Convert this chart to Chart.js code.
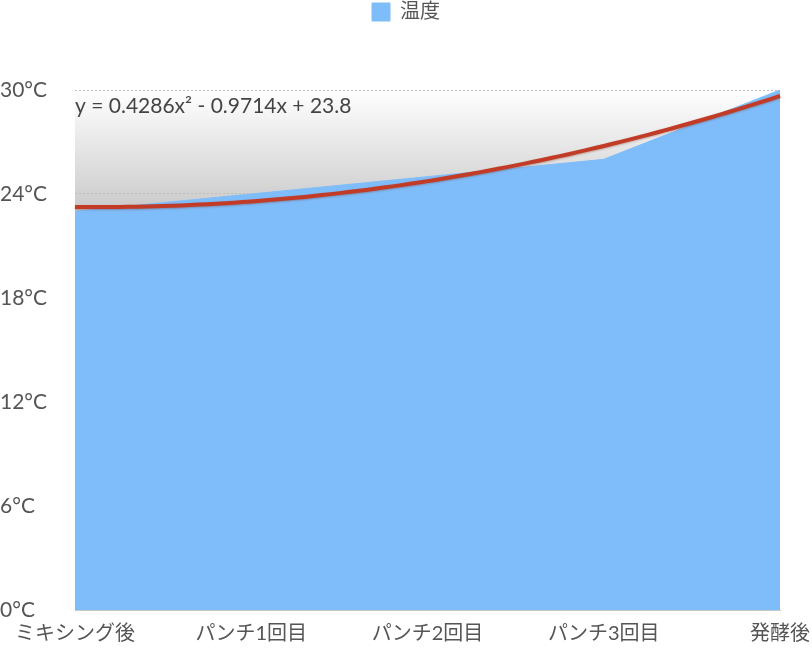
<!DOCTYPE html>
<html>
<head>
<meta charset="utf-8">
<script src="https://cdn.jsdelivr.net/npm/chart.js@4"></script>
<style>
  html, body { margin: 0; padding: 0; background: #fff; }
  #wrap { width: 812px; height: 651px; }
</style>
</head>
<body>
<div id="wrap"><canvas id="tempChart"></canvas></div>
<script>
// data
const categories = ['ミキシング後', 'パンチ1回目', 'パンチ2回目', 'パンチ3回目', '発酵後'];
const temperatures = [23, 24, 25, 26, 30];
const yTicks = [0, 6, 12, 18, 24, 30];
// quadratic trend: c2*x^2 + c1*x + c0, x = 1..n
const trendCoef = [0.4286, -0.9714, 23.8];
const trendLabel = 'y = 0.4286x² - 0.9714x + 23.8';

Chart.defaults.font.family = "Lato, 'Noto Sans CJK JP', sans-serif";
Chart.defaults.color = '#555';

const ctx = document.getElementById('tempChart').getContext('2d');

// grey shade behind the area, white at top fading to grey
const shadeBackground = {
    id: 'shadeBackground',
    beforeDraw(chart) {
        const { ctx, chartArea: a } = chart;
        const yEnd = chart.scales.y.getPixelForValue(22);
        const g = ctx.createLinearGradient(0, a.top, 0, yEnd);
        g.addColorStop(0, '#ffffff');
        g.addColorStop(1, '#c2c2c2');
        ctx.save();
        ctx.fillStyle = g;
        ctx.fillRect(a.left, a.top, a.right - a.left, yEnd - a.top);
        ctx.restore();
    }
};

// trend curve and its equation
const trendLine = {
    id: 'trendLine',
    afterDatasetsDraw(chart) {
        const { ctx, chartArea: a } = chart;
        const xs = chart.scales.x, ys = chart.scales.y;
        const n = temperatures.length;
        ctx.save();
        ctx.beginPath();
        for (let t = 0; t <= n - 1 + 1e-9; t += 0.05) {
            const x = t + 1;
            const v = trendCoef[0] * x * x + trendCoef[1] * x + trendCoef[2];
            const px = xs.getPixelForValue(t), py = ys.getPixelForValue(v);
            if (t === 0) ctx.moveTo(px, py); else ctx.lineTo(px, py);
        }
        ctx.strokeStyle = '#c23b26';
        ctx.lineWidth = 4;
        ctx.shadowColor = 'rgba(120,40,20,0.35)';
        ctx.shadowBlur = 2;
        ctx.shadowOffsetY = 1;
        ctx.stroke();
        ctx.restore();

        ctx.save();
        ctx.font = "21px Lato, 'Noto Sans CJK JP', sans-serif";
        ctx.fillStyle = '#444';
        ctx.textBaseline = 'middle';
        ctx.fillText(trendLabel, a.left, a.top + 16);
        ctx.restore();
    }
};

// extra room under the legend
const legendGap = {
    id: 'legendGap',
    beforeInit(chart) {
        const fit = chart.legend.fit;
        chart.legend.fit = function () {
            fit.bind(chart.legend)();
            this.height += 58;
        };
    }
};

new Chart(ctx, {
    type: 'line',
    data: {
        labels: categories,
        datasets: [{
            label: '温度',
            data: temperatures,
            borderColor: '#7fbdfa',
            backgroundColor: '#7fbdfa',
            borderWidth: 1,
            pointRadius: 0,
            tension: 0,
            fill: 'origin'
        }]
    },
    options: {
        responsive: true,
        maintainAspectRatio: false,
        animation: false,
        layout: { padding: 0 },
        plugins: {
            legend: {
                position: 'top',
                labels: {
                    boxWidth: 18,
                    boxHeight: 18,
                    padding: 2,
                    font: { size: 20 },
                    color: '#555'
                }
            },
            tooltip: { enabled: false }
        },
        scales: {
            x: {
                offset: false,
                grid: { display: false, drawTicks: false },
                border: { display: true, color: '#c8c8c8' },
                ticks: { font: { size: 20 }, padding: 12, maxRotation: 0, autoSkip: false, color: '#555' },
                afterFit(scale) {
                    scale.height = 41;
                    scale.paddingLeft = 0;
                    scale.paddingRight = 32;
                }
            },
            y: {
                min: yTicks[0],
                max: yTicks[yTicks.length - 1],
                afterBuildTicks(axis) { axis.ticks = yTicks.map(v => ({ value: v })); },
                grid: { color: '#bdbdbd', lineWidth: 1, drawTicks: false },
                border: { display: false, dash: [2, 2] },
                ticks: {
                    font: { size: 21 },
                    color: '#555',
                    crossAlign: 'far',
                    padding: 10,
                    callback: v => v + '°C'
                },
                afterFit(scale) { scale.width = 75; }
            }
        }
    },
    plugins: [shadeBackground, trendLine, legendGap]
});
</script>
</body>
</html>
